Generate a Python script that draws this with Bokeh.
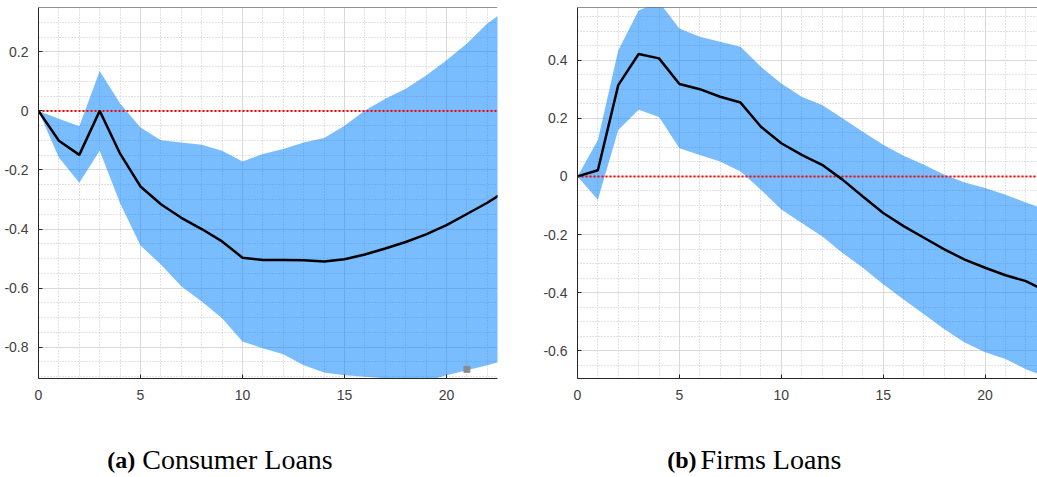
from bokeh.plotting import figure
from bokeh.models import FixedTicker, Range1d, Span
from bokeh.layouts import row, column
from bokeh.core.properties import value
from bokeh.embed import file_html
from bokeh.resources import INLINE

# ---------------- data ----------------
horizon = list(range(0, 24))

consumer_mid = [0, -0.101, -0.149, 0.0, -0.145, -0.256, -0.316, -0.362, -0.400, -0.442,
                -0.497, -0.505, -0.505, -0.506, -0.510, -0.502, -0.486, -0.466, -0.444,
                -0.418, -0.387, -0.349, -0.311, -0.268]
consumer_upper = [0, -0.027, -0.052, 0.135, 0.025, -0.056, -0.099, -0.107, -0.115, -0.135,
                  -0.171, -0.146, -0.129, -0.107, -0.092, -0.050, 0.001, 0.041, 0.075,
                  0.120, 0.171, 0.228, 0.296, 0.345]
consumer_lower = [0, -0.158, -0.243, -0.135, -0.313, -0.456, -0.520, -0.594, -0.645, -0.702,
                  -0.781, -0.804, -0.824, -0.861, -0.886, -0.895, -0.900, -0.905, -0.915,
                  -0.915, -0.895, -0.878, -0.861, -0.842]

firms_mid = [0, 0.021, 0.314, 0.421, 0.406, 0.318, 0.300, 0.274, 0.254, 0.171, 0.114, 0.074,
             0.040, -0.011, -0.069, -0.126, -0.171, -0.211, -0.251, -0.286, -0.314, -0.340,
             -0.360, -0.395]
firms_upper = [0, 0.125, 0.434, 0.571, 0.600, 0.509, 0.480, 0.463, 0.446, 0.377, 0.320, 0.274,
               0.246, 0.200, 0.154, 0.109, 0.071, 0.040, 0.006, -0.021, -0.040, -0.063,
               -0.090, -0.115]
firms_lower = [0, -0.080, 0.160, 0.229, 0.204, 0.097, 0.074, 0.051, 0.017, -0.046, -0.114,
               -0.160, -0.206, -0.263, -0.314, -0.371, -0.423, -0.474, -0.526, -0.571, -0.605,
               -0.628, -0.663, -0.690]

zero_line = [0.0] * len(horizon)

marker_x = [21]
marker_y = [-0.875]

x_ticks = [0, 5, 10, 15, 20]
x_minor = list(range(0, 24))

left_yticks = [-0.8, -0.6, -0.4, -0.2, 0, 0.2]
left_ylabels = ["-0.8", "-0.6", "-0.4", "-0.2", "0", "0.2"]
right_yticks = [-0.6, -0.4, -0.2, 0, 0.2, 0.4]
right_ylabels = ["-0.6", "-0.4", "-0.2", "0", "0.2", "0.4"]

caption_tags = ["(a)", "(b)"]
caption_names = ["Consumer Loans", "Firms Loans"]

AXIS_COLOR = "#262626"
LABEL_COLOR = "#404040"
TOP_B = 7
FRAME_H = 371
FIG_H = 406
CAP_H = 68


def minor_list(lo, hi, step):
    out = []
    v = lo
    while v <= hi + 1e-9:
        out.append(round(v, 4))
        v += step
    return out


def make_panel(mid, lo, hi, yr, xend, yticks, ylabels, width, lb, rb):
    p = figure(width=width, height=FIG_H,
               x_range=Range1d(0, xend), y_range=Range1d(*yr),
               output_backend="svg", toolbar_location=None,
               min_border_left=lb, min_border_right=rb,
               min_border_top=TOP_B, min_border_bottom=FIG_H - FRAME_H - TOP_B)
    p.outline_line_color = None
    p.background_fill_color = "white"

    p.xaxis.ticker = FixedTicker(ticks=x_ticks, minor_ticks=x_minor)
    p.yaxis.ticker = FixedTicker(ticks=yticks, minor_ticks=minor_list(-1.0, 1.0, 0.05))
    p.yaxis.major_label_overrides = {t: l for t, l in zip(yticks, ylabels)}

    for ax in list(p.xaxis) + list(p.yaxis):
        ax.axis_line_color = AXIS_COLOR
        ax.axis_line_width = 1
        ax.major_tick_line_color = AXIS_COLOR
        ax.major_tick_in = 4
        ax.major_tick_out = 0
        ax.minor_tick_line_color = None
        ax.major_label_text_font = "Liberation Sans"
        ax.major_label_text_font_size = "14px"
        ax.major_label_text_color = LABEL_COLOR
    p.xaxis.major_label_standoff = 7
    p.yaxis.major_label_standoff = 6

    for g in (p.xgrid, p.ygrid):
        g.grid_line_color = "#d9d9d9"
        g.grid_line_width = 1
        g.minor_grid_line_color = "#c4c4c4"
        g.minor_grid_line_dash = "1 2"
        g.minor_grid_line_width = 1

    p.varea(x=horizon, y1=lo, y2=hi, fill_color="#0080ff", fill_alpha=0.52)
    p.line(x=horizon, y=zero_line, line_color="#ff0000", line_width=2, line_dash="2 2")
    p.line(x=horizon, y=mid, line_color="black", line_width=2.5)

    # top spine
    p.add_layout(Span(location=yr[1], dimension="width", line_color=AXIS_COLOR, line_width=1))
    return p


p1 = make_panel(consumer_mid, consumer_lower, consumer_upper, (-0.906, 0.350), 22.5,
                left_yticks, left_ylabels, width=539, lb=38, rb=42)
p1.scatter(marker_x, marker_y, marker="square", size=6, color="#8c8c8c")

p2 = make_panel(firms_mid, firms_lower, firms_upper, (-0.695, 0.581), 22.57,
                right_yticks, right_ylabels, width=498, lb=38, rb=0)

cap = figure(width=1037, height=CAP_H, x_range=Range1d(0, 1037), y_range=Range1d(0, CAP_H),
             output_backend="svg", toolbar_location=None,
             min_border_left=0, min_border_right=0, min_border_top=0, min_border_bottom=0,
             x_axis_type=None, y_axis_type=None)
cap.outline_line_color = None
cap.grid.visible = False

# caption placement inside the caption strip (pixels, origin bottom-left)
tag_x = [106.7, 666.7]
name_x = [141.7, 700.0]
mid_y = [CAP_H - 53, CAP_H - 53]
cap.text(x=tag_x, y=mid_y, text=caption_tags, text_font=value("Liberation Serif"),
         text_font_style="bold", text_font_size="24px", text_baseline="middle",
         text_align="left", text_color="black")
cap.text(x=name_x, y=mid_y, text=caption_names, text_font=value("Liberation Serif"),
         text_font_size="28px", text_baseline="middle",
         text_align="left", text_color="black")

layout = column(row(p1, p2), cap)

open("out.html", "w").write(file_html(layout, INLINE))
